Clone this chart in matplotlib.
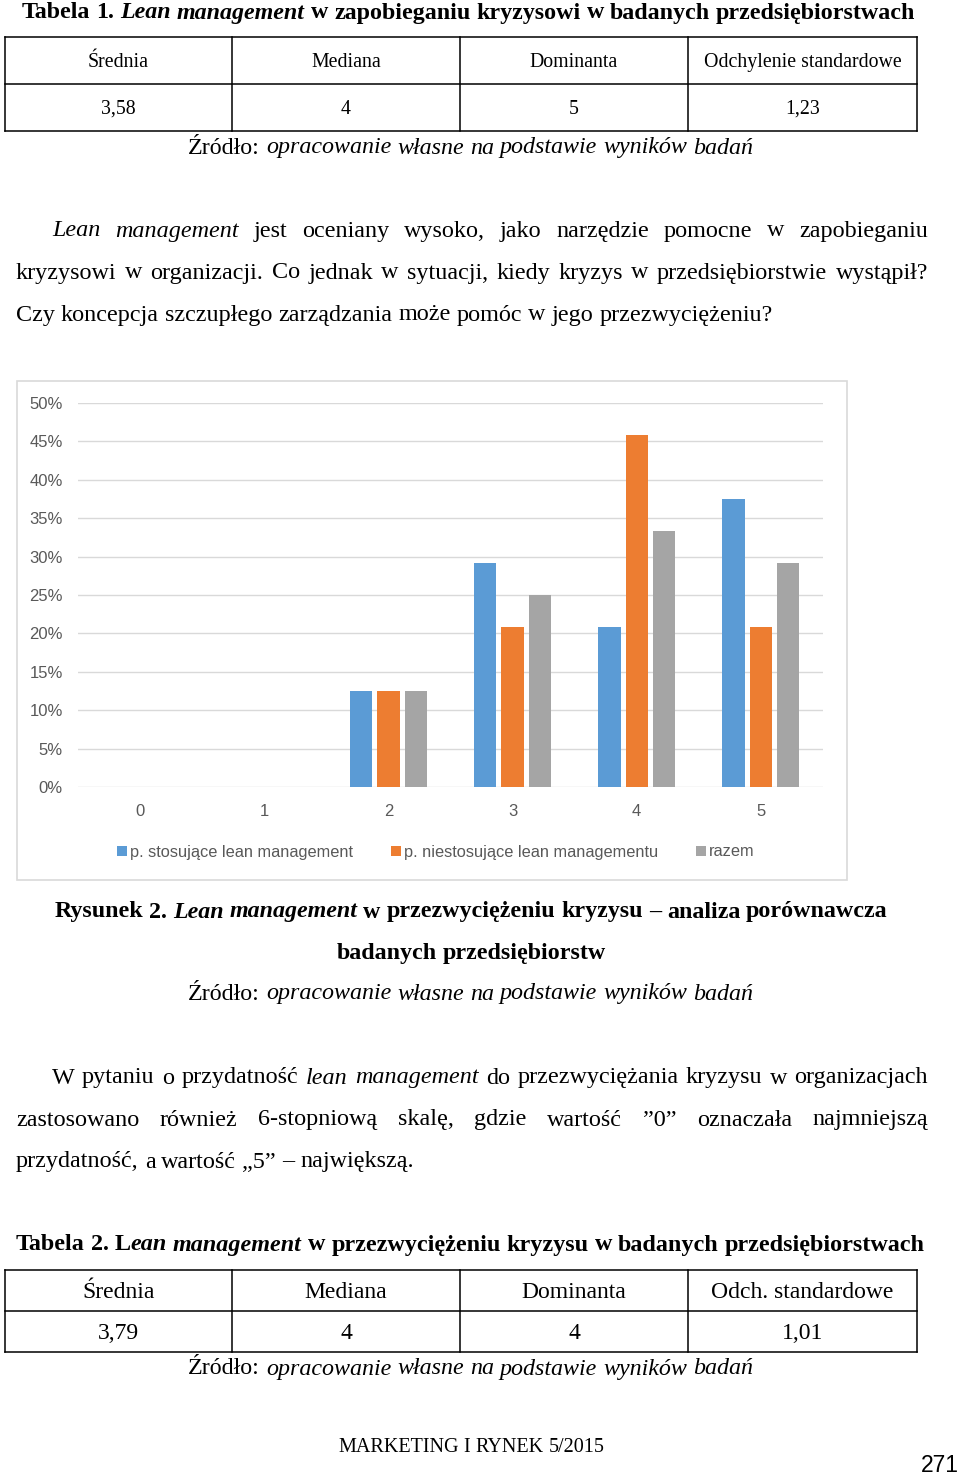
import matplotlib
matplotlib.use('Agg')
import numpy as np
import matplotlib.pyplot as plt
from matplotlib.patches import Rectangle

W, H = 960, 1476

# chart data (percent of answers)
categories = ['0', '1', '2', '3', '4', '5']
stosujace = [0, 0, 12.5, 29.2, 20.8, 37.5]
niestosujace = [0, 0, 12.5, 20.8, 45.8, 20.8]
razem = [0, 0, 12.5, 25.0, 33.3, 29.2]
series_names = ['p. stosujące lean management', 'p. niestosujące lean managementu', 'razem']
colors = ['#5B9BD5', '#ED7D31', '#A5A5A5']
yticks = [0, 5, 10, 15, 20, 25, 30, 35, 40, 45, 50]

# tables
tab1_head = ['Średnia', 'Mediana', 'Dominanta', 'Odchylenie standardowe']
tab1_vals = ['3,58', '4', '5', '1,23']
tab2_head = ['Średnia', 'Mediana', 'Dominanta', 'Odch. standardowe']
tab2_vals = ['3,79', '4', '4', '1,01']

zrodlo = 'Źródło: _opracowanie własne na podstawie wyników badań_'

fig = plt.figure(figsize=(W / 100, H / 100), dpi=100)
page = fig.add_axes([0, 0, 1, 1])
page.set_xlim(0, W)
page.set_ylim(H, 0)
page.axis('off')
renderer = fig.canvas.get_renderer()

SERIF = 'Liberation Serif'
DY = 2  # small shift so glyph centres sit where the reference has them


def font(bold, italic):
    return dict(family=SERIF, weight='bold' if bold else 'normal',
                style='italic' if italic else 'normal')


def parse(line, bold=False):
    # words split on spaces, '_' toggles italic
    italic = False
    toks = []
    for word in line.split(' '):
        runs = []
        for k, p in enumerate(word.split('_')):
            if k > 0:
                italic = not italic
            if p:
                runs.append((p, font(bold, italic)))
        toks.append(runs)
    return toks


def measure(s, size, fk):
    t = page.text(0, 0, s, fontsize=size, **fk)
    w = t.get_window_extent(renderer).width
    t.remove()
    return w


def natural(line, size, bold=False):
    toks = parse(line, bold)
    sp = measure('a a', size, font(bold, False)) - measure('aa', size, font(bold, False))
    ws = [sum(measure(s, size, fk) for s, fk in runs) for runs in toks]
    return sum(ws) + sp * (len(toks) - 1)


def fit(line, width, bold=False):
    return 10 * width / natural(line, 10, bold)


def draw_line(line, y, size, mode='left', x0=0, x1=W, cx=None, bold=False):
    toks = parse(line, bold)
    sp = measure('a a', size, font(bold, False)) - measure('aa', size, font(bold, False))
    ws = [sum(measure(s, size, fk) for s, fk in runs) for runs in toks]
    if mode == 'justify':
        gap = (x1 - x0 - sum(ws)) / (len(toks) - 1)
        x = x0
    elif mode == 'center':
        gap = sp
        x = cx - (sum(ws) + sp * (len(toks) - 1)) / 2
    else:
        gap = sp
        x = x0
    for runs, wd in zip(toks, ws):
        xx = x
        for s, fk in runs:
            page.text(xx, y + DY, s, fontsize=size, ha='left', va='center', color='black', **fk)
            xx += measure(s, size, fk)
        x += wd + gap


def draw_table(top, mid, bottom, heads, vals, size):
    cols = [5, 232, 460, 688, 917]
    for yy in (top, mid, bottom):
        page.plot([cols[0], cols[-1]], [yy, yy], color='black', lw=1.1)
    for xx in cols:
        page.plot([xx, xx], [top, bottom], color='black', lw=1.1)
    for i in range(4):
        cx = (cols[i] + cols[i + 1]) / 2
        page.text(cx, (top + mid) / 2 + DY, heads[i], fontsize=size, ha='center', va='center', family=SERIF)
        page.text(cx, (mid + bottom) / 2 + DY, vals[i], fontsize=size, ha='center', va='center', family=SERIF)


# --- Tabela 1
t1 = 'Tabela 1. _Lean management_ w zapobieganiu kryzysowi w badanych przedsiębiorstwach'
draw_line(t1, 11, fit(t1, 898, True), x0=22, bold=True)
draw_table(37, 84, 131, tab1_head, tab1_vals, 14.3)
zs = fit(zrodlo, 567)
draw_line(zrodlo, 146, zs, x0=188)

# --- paragraph 1
p1 = ['_Lean management_ jest oceniany wysoko, jako narzędzie pomocne w zapobieganiu',
      'kryzysowi w organizacji. Co jednak w sytuacji, kiedy kryzys w przedsiębiorstwie wystąpił?',
      'Czy koncepcja szczupłego zarządzania może pomóc w jego przezwyciężeniu?']
ps = fit(p1[2], 755)
draw_line(p1[0], 229, ps, 'justify', 52, 928)
draw_line(p1[1], 271, ps, 'justify', 16, 928)
draw_line(p1[2], 313, ps, x0=16)

# --- chart
page.add_patch(Rectangle((17, 381), 830, 499, fill=False, ec='#D9D9D9', lw=1.2))
ax = fig.add_axes([78 / W, 1 - 787 / H, 745 / W, 384 / H])
x = np.arange(len(categories))
for k, (vals, name, c) in enumerate(zip([stosujace, niestosujace, razem], series_names, colors)):
    ax.bar(x + (k - 1) * 0.22, vals, width=0.18, color=c, label=name, zorder=3)
ax.set_xlim(-0.5, 5.5)
ax.set_ylim(0, 50)
ax.set_yticks(yticks)
ax.set_yticklabels([f'{v}%' for v in yticks])
ax.set_xticks(x)
ax.set_xticklabels(categories)
ax.grid(axis='y', color='#D9D9D9', lw=1, zorder=0)
for s in ax.spines.values():
    s.set_visible(False)
ax.tick_params(length=0, colors='#595959', labelsize=12)
ax.tick_params(axis='x', pad=12)
ax.tick_params(axis='y', pad=11)
for lab in ax.get_xticklabels() + ax.get_yticklabels():
    lab.set_family('Liberation Sans')
ax.patch.set_alpha(0)
leg = fig.legend(loc='center', bbox_to_anchor=(436 / W, 1 - 852 / H), ncol=3, frameon=False,
                 handlelength=0.6, handleheight=0.6, handletextpad=0.2, columnspacing=2.3,
                 prop=dict(family='Liberation Sans', size=11.8))
for t in leg.get_texts():
    t.set_color('#595959')

# --- caption
c1 = 'Rysunek 2. _Lean management_ w przezwyciężeniu kryzysu – analiza porównawcza'
cs = fit(c1, 837, True)
draw_line(c1, 910, cs, 'center', cx=471, bold=True)
draw_line('badanych przedsiębiorstw', 951, cs, 'center', cx=471, bold=True)
draw_line(zrodlo, 992, zs, x0=188)

# --- paragraph 2
p2 = ['W pytaniu o przydatność _lean management_ do przezwyciężania kryzysu w organizacjach',
      'zastosowano również 6-stopniową skalę, gdzie wartość ”0” oznaczała najmniejszą',
      'przydatność, a wartość „5” – największą.']
draw_line(p2[0], 1076, ps, 'justify', 52, 928)
draw_line(p2[1], 1118, ps, 'justify', 16, 928)
draw_line(p2[2], 1160, ps, x0=16)

# --- Tabela 2
t2 = 'Tabela 2. L_ean management_ w przezwyciężeniu kryzysu w badanych przedsiębiorstwach'
draw_line(t2, 1243, fit(t2, 910, True), x0=16, bold=True)
draw_table(1270, 1311, 1352, tab2_head, tab2_vals, 17)
draw_line(zrodlo, 1367, zs, x0=188)

# --- footer
ms = fit('MARKETING I RYNEK 5/2015', 267)
draw_line('MARKETING I RYNEK 5/2015', 1446, ms, x0=338)
page.text(959, 1466, '271', fontsize=16.5, ha='right', va='center', family='Liberation Sans')

fig.savefig('out.png', dpi=100)
